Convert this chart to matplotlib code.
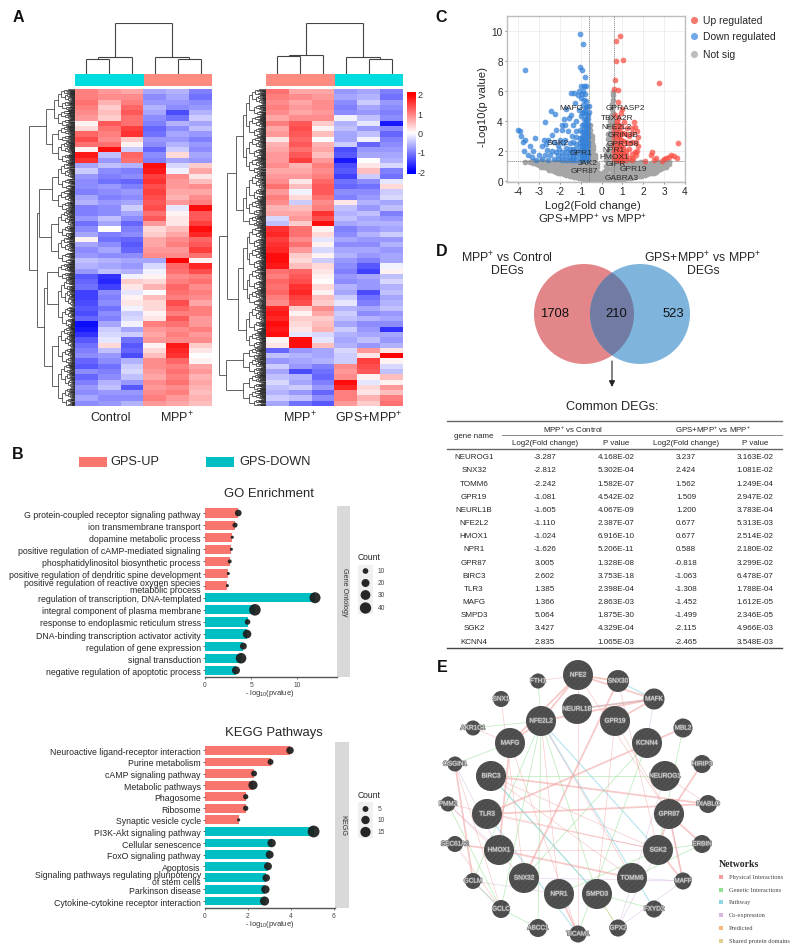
#Multi panel figure: heatmaps, enrichment bars, volcano, venn + table, gene network
import numpy as np
import matplotlib
matplotlib.use("Agg")
import matplotlib.pyplot as plt
import matplotlib.patheffects as pe
from matplotlib.collections import LineCollection
from matplotlib.colors import LinearSegmentedColormap
from matplotlib.patches import Circle, Rectangle

plt.rcParams['font.family'] = ['Liberation Sans', 'DejaVu Sans']
plt.rcParams['mathtext.default'] = 'regular'
plt.rcParams['hatch.linewidth'] = 0.35
plt.rcParams['axes.unicode_minus'] = False

# heatmap values, rows top to bottom, columns Control x3 then MPP+ x3
heat_left = [
    [1.0,0.8,0.7,-0.7,-0.6,-1.0],[1.0,0.9,0.9,-0.9,-0.7,-1.1],[1.1,0.6,1.0,-0.8,-0.8,-0.9],[1.0,0.4,1.2,-0.6,-0.9,-0.8],
    [0.9,0.5,1.3,-0.7,-1.4,-0.6],[0.8,0.4,1.1,-0.9,-1.1,-0.4],[0.1,1.3,1.1,-1.0,-0.6,-0.7],[0.3,1.1,1.5,-1.2,-0.9,-0.5],
    [1.2,1.0,1.6,-1.1,-0.7,-0.8],[1.4,0.9,0.4,-0.8,-0.8,-1.0],[1.1,1.1,0.1,-0.9,-0.6,-0.8],[0.1,1.9,-0.4,-1.2,-0.4,-0.9],
    [1.8,-0.5,1.2,-0.9,0.3,-0.7],[1.6,-0.8,1.1,-1.0,-0.7,-0.8],[-0.7,-0.5,-0.6,1.9,-0.3,0.4],[-0.4,-0.9,-1.0,1.8,-0.1,0.7],
    [-0.8,-1.0,-0.9,1.5,0.9,0.2],[-0.9,-1.1,-1.2,1.6,0.8,0.5],[-0.9,-0.8,-1.0,1.4,0.8,0.9],[-1.0,-0.9,-0.8,1.5,0.7,0.7],
    [-0.7,-1.0,-0.9,1.4,0.6,0.9],[-0.6,-0.8,-0.7,1.3,0.8,1.0],[-1.0,-0.9,-0.4,1.4,-0.2,1.9],[-1.0,-0.9,-0.7,1.1,0.1,1.3],
    [-0.8,-0.5,-0.9,1.3,0.2,1.3],[-1.1,-0.7,-1.2,0.8,0.2,1.5],[-0.9,0.0,-1.0,0.3,0.5,1.9],[-0.7,-1.0,-0.9,0.4,0.7,1.7],
    [0.1,-1.1,-1.2,0.7,0.9,1.2],[-0.7,-0.9,-1.3,0.7,1.0,1.3],[-0.9,-0.7,-1.2,0.8,0.8,1.5],[-0.8,-0.9,-0.9,0.9,0.9,1.1],
    [-0.5,-0.6,-0.7,-0.7,2.0,0.1],[-0.6,-0.7,-0.8,-0.3,1.2,1.7],[-0.8,-0.5,-0.6,-0.1,1.1,1.4],[-1.3,-1.6,-0.1,0.1,0.9,1.0],
    [-1.2,-1.7,0.4,0.3,1.0,1.1],[-1.1,-1.5,0.2,0.6,1.2,0.9],[-1.5,-0.9,-0.2,0.0,1.1,1.0],[-1.5,-1.0,0.1,0.5,1.0,0.9],
    [-1.4,-0.9,0.2,0.3,1.4,0.7],[-1.3,-1.1,-0.1,0.3,1.2,1.0],[-1.4,-0.9,-0.4,0.1,1.0,1.0],[-1.2,-1.0,-0.3,0.2,1.3,0.8],
    [-1.9,-0.7,-0.1,1.0,1.1,0.8],[-1.8,-0.4,-0.7,0.8,0.9,1.0],[-1.6,-0.3,-0.4,0.7,1.0,0.8],[-1.3,-0.2,-1.1,0.8,0.9,0.9],
    [-1.1,0.3,-1.3,0.1,1.8,0.4],[-1.0,-0.5,-1.2,0.3,1.7,0.2],[-0.9,-0.8,-1.4,0.5,1.6,0.0],[-1.2,-0.9,-0.6,0.9,1.2,0.1],
    [-1.3,-1.1,-0.4,0.9,1.0,0.7],[-0.9,-1.0,-0.3,0.8,1.1,0.8],[-1.2,-0.9,-0.5,0.7,1.0,0.6],[-1.0,-0.6,-0.8,0.9,1.1,0.7],
    [-0.8,-0.5,-1.3,0.8,0.9,0.6],[-0.9,-0.8,-0.8,0.9,1.0,0.5],[-0.7,-0.9,-0.9,1.0,0.8,0.6],[-0.9,-0.8,-0.6,0.8,0.7,0.5],
]
# same, columns MPP+ x3 then GPS+MPP+ x3
heat_right = [
    [1.1,0.7,0.7,-0.8,-0.7,-1.0],[1.0,0.9,0.8,-0.7,-0.6,-1.1],[0.9,0.7,0.9,-0.9,-0.4,-0.8],[1.0,0.8,0.9,-1.0,-0.7,-0.9],
    [0.9,0.7,0.8,-0.9,-0.8,-1.0],[0.7,0.9,0.9,-0.1,-0.5,-0.9],[1.0,1.3,0.4,-0.6,-0.2,-1.8],[0.7,1.4,0.1,-0.5,-0.8,-0.9],
    [0.8,1.3,0.5,-0.7,-0.5,-1.2],[0.2,1.2,0.0,-0.7,-0.1,-1.0],[0.6,1.3,0.6,-0.4,-1.2,-0.9],[0.7,1.1,0.7,-1.4,-0.8,-0.8],
    [0.8,1.3,0.5,-1.3,-0.7,-0.7],[0.8,1.5,0.8,-1.8,0.0,-0.6],[0.9,0.6,1.0,-1.4,0.2,-0.3],[0.7,0.7,0.9,-1.3,0.5,-1.0],
    [0.8,0.8,1.0,-1.5,-0.4,-1.1],[0.9,0.2,1.2,-1.1,-0.9,-0.2],[1.1,0.5,1.3,-1.2,-1.1,0.3],[0.8,-0.1,1.3,-0.9,-0.9,-0.4],
    [1.0,0.3,1.1,-1.0,-0.8,-0.3],[0.9,-0.4,0.9,0.2,-0.6,-0.7],[0.6,0.5,1.0,-0.5,-0.8,-0.5],[0.7,0.7,1.6,-0.6,-0.5,-1.0],
    [-0.3,0.8,1.4,-0.5,-0.7,-0.8],[-0.5,0.4,1.9,-0.7,-0.6,-0.6],[1.6,1.1,0.1,-1.0,-0.8,-0.7],[1.7,1.1,0.3,-0.9,-0.6,-0.4],
    [1.5,0.9,-0.2,-0.7,-0.8,-0.8],[1.6,1.1,0.1,-0.9,-0.9,-0.6],[1.7,0.8,-0.3,-0.7,-0.7,-0.8],[1.9,0.4,0.1,-0.6,-0.8,-0.7],
    [1.9,0.3,-0.4,-0.8,-1.0,-0.7],[1.8,0.5,0.3,-0.9,-1.3,-0.1],[1.1,1.2,0.2,-1.0,-1.5,0.1],[1.0,1.3,0.1,-0.8,-0.7,-0.5],
    [1.2,1.4,0.0,-0.9,-0.8,-0.3],[1.1,1.6,0.3,-0.6,-0.8,-0.6],[1.2,1.7,0.1,-0.7,-1.4,-0.5],[1.0,1.5,0.5,-0.4,-1.1,-0.7],
    [0.9,1.4,0.4,-0.2,-1.0,-0.6],[1.7,0.4,0.9,-0.6,-0.7,-0.5],[1.8,0.1,0.7,-0.4,-0.9,-0.8],[1.7,0.4,0.4,-0.5,-0.6,-0.7],
    [1.9,0.3,0.5,-0.7,-0.9,-0.9],[1.8,0.2,0.6,-0.4,-0.8,-1.6],[1.9,-0.2,-0.3,-0.6,-0.7,-0.7],[0.1,1.9,-0.2,-0.7,-0.5,-0.8],
    [0.2,1.9,0.5,-0.6,-0.8,-0.6],[-1.2,-0.8,-0.7,-0.3,0.8,0.2],[-0.5,-0.6,-0.7,-0.4,0.2,2.0],[-0.8,-0.7,-0.6,-0.4,1.5,0.1],
    [-0.4,-0.8,-1.0,0.9,1.4,-0.3],[-0.7,-1.4,-1.1,0.8,1.3,-0.5],[-0.5,-0.6,-1.2,0.9,0.1,0.5],[-0.3,-0.7,-1.0,1.9,-0.2,0.1],
    [-0.5,-0.4,-0.8,1.7,0.3,0.8],[-0.6,-0.8,-1.2,1.0,0.2,0.5],[-0.4,-0.5,-0.9,1.0,0.6,1.0],[-0.7,-1.1,-1.3,0.8,0.4,1.1],
]
heat_left_groups = ["Control", "MPP$^{+}$"]
heat_right_groups = ["MPP$^{+}$", "GPS+MPP$^{+}$"]
cbar_ticks = [2, 1, 0, -1, -2]

# merge trees: (height, child, child), an int is a block of heatmap rows
row_tree_left = (1.0,
    (0.80, (0.62, (0.45, 4, 3), (0.5, 3, 4)), (0.42, 0, 0)),
    (0.82, (0.78, (0.51, 5, 4), (0.53, 5, 5)), (0.67, (0.6, 3, 9), (0.49, 7, 8))))
row_tree_right = (1.0,
    (0.83, (0.64, (0.5, (0.42, 5, 4), (0.42, 4, 3)), (0.5, (0.42, 5, 3), 2)),
           (0.59, (0.48, (0.4, 4, 4), (0.4, 4, 3)), (0.42, 5, 3))),
    (0.85, (0.5, 2, 3), (0.5, 3, 3)))
col_tree_left = (1.0, (0.33, (0.30, 1, 1), 1), (0.34, 1, (0.30, 1, 1)))
col_tree_right = (1.0, (0.38, (0.35, 1, 1), 1), (0.34, 1, (0.30, 1, 1)))

# GO bars
go_terms = ["G protein-coupled receptor signaling pathway", "ion transmembrane transport",
            "dopamine metabolic process", "positive regulation of cAMP-mediated signaling",
            "phosphatidylinositol biosynthetic process", "positive regulation of dendritic spine development",
            "positive regulation of reactive oxygen species\nmetabolic process",
            "regulation of transcription, DNA-templated", "integral component of plasma membrane",
            "response to endoplasmic reticulum stress", "DNA-binding transcription activator activity",
            "regulation of gene expression", "signal transduction", "negative regulation of apoptotic process"]
go_pval = [3.6, 3.25, 2.95, 2.85, 2.67, 2.52, 2.42, 11.9, 5.4, 4.6, 4.55, 4.15, 3.9, 3.35]
go_count = [14, 8, 3, 3, 5, 3, 3, 38, 42, 10, 23, 15, 35, 20]
go_up = 7
go_xticks = [0, 5, 10]
go_legend = [10, 20, 30, 40]

# KEGG bars
kegg_terms = ["Neuroactive ligand-receptor interaction", "Purine metabolism", "cAMP signaling pathway",
              "Metabolic pathways", "Phagosome", "Ribosome", "Synaptic vesicle cycle",
              "PI3K-Akt signaling pathway", "Cellular senescence", "FoxO signaling pathway", "Apoptosis",
              "Signaling pathways regulating pluripotency\nof stem cells", "Parkinson disease",
              "Cytokine-cytokine receptor interaction"]
kegg_pval = [3.97, 3.06, 2.29, 2.24, 1.9, 1.9, 1.57, 5.07, 3.11, 3.02, 2.94, 2.86, 2.82, 2.78]
kegg_count = [8, 5, 5, 12, 4, 4, 1.4, 20, 10, 9, 9, 8, 10, 12]
kegg_up = 7
kegg_xticks = [0, 2, 4, 6]
kegg_legend = [5, 10, 15]

# volcano points
up_pts = [(0.9,9.67),(0.7,9.3),(0.71,8.02),(1.05,8.04),(0.65,6.75),(2.74,6.55),(0.6,6.15),(0.8,6.05),(0.77,5.25),(0.97,4.8),
    (0.65,4.4),(0.8,4.2),(0.95,4.5),(1.1,3.9),(0.7,3.8),(1.2,3.5),(1.55,3.9),(1.6,3.6),(1.45,3.2),(1.7,3.3),(1.75,2.9),(1.65,2.6),
    (1.75,2.3),(1.7,2.0),(1.6,1.9),(1.65,1.7),(1.5,1.5),
    (2.4,1.95),(2.35,1.75),(2.6,1.55),(2.1,1.33),(2.5,1.4),(3.65,2.52),(3.35,1.75),(3.25,1.6),(3.45,1.65),(3.6,1.55),(3.1,1.5),(3.0,1.45),(2.9,1.3)]
up_dense = {0.62:[1.45,1.75,2.0,2.3,2.6,2.9,3.2,3.5], 0.72:[1.4,1.6,1.9,2.2,2.5,2.85,3.1,3.45,4.0], 0.82:[1.38,1.65,1.95,2.2,2.55,2.9,3.3,3.7],
    0.92:[1.35,1.6,1.85,2.3,2.7,3.15,3.6], 1.02:[1.4,1.65,2.0,2.25,2.65,3.2], 1.15:[1.38,1.7,2.0,2.6,3.1], 1.3:[1.55,2.1,2.5,3.0], 1.45:[1.4,1.8,2.6,3.5]}
down_pts = [(-1.05,9.8),(-0.9,9.1),(-1.05,7.6),(-0.95,7.4),(-0.8,6.9),(-3.65,7.4),(-1.0,6.3),(-0.85,6.35),(-0.75,6.3),(-1.1,6.0),
    (-0.9,6.0),(-1.3,5.85),(-1.45,5.85),(-1.15,5.7),(-0.8,5.8),(-1.0,5.5),(-0.75,5.3),(-1.25,5.2),(-0.9,5.05),(-1.7,4.8),(-1.1,4.7),
    (-0.8,4.7),(-2.4,4.65),(-2.25,4.45),(-1.45,4.4),(-1.0,4.3),(-1.55,4.2),(-1.8,4.1),(-2.7,3.95),(-1.2,4.0),
    (-1.9,3.7),(-1.75,3.75),(-1.35,3.7),(-4.0,3.4),(-3.9,3.35),(-2.2,3.4),(-1.9,3.4),(-1.6,3.3),
    (-1.2,3.3),(-3.85,3.0),(-2.35,3.05),(-1.4,3.0),(-3.2,2.85),(-2.75,2.75),(-3.65,2.75),
    (-3.75,2.6),(-2.55,2.7),(-2.3,2.6),(-2.0,2.7),(-1.75,2.75),(-3.45,2.35),
    (-2.85,2.3),(-2.65,2.45),(-2.1,2.4),(-1.85,2.5),(-3.7,2.0),
    (-3.3,2.0),(-2.6,2.05),(-2.35,2.0),(-2.05,2.1),
    (-3.5,1.7),(-3.35,1.6),(-3.0,1.7),(-2.7,1.75),(-2.45,1.7),(-2.2,1.95),
    (-3.15,1.4),(-2.85,1.45),(-2.55,1.42),(-2.3,1.45),(-0.6,5.0),(-0.7,5.0),(-0.6,4.6)]
down_dense = {-0.65:[1.4,1.7,2.0,2.3,2.6,2.9,3.2,3.5,3.8,4.1,4.4], -0.75:[1.45,1.75,2.05,2.35,2.65,2.95,3.25,3.55,3.85,4.15,4.45,4.9],
    -0.85:[1.4,1.7,2.0,2.3,2.6,2.9,3.2,3.5,3.8,4.1,4.6,5.4], -0.95:[1.45,1.75,2.05,2.35,2.65,2.95,3.25,3.7,4.5,5.8],
    -1.05:[1.4,1.7,2.0,2.3,2.6,2.85,3.4], -1.2:[1.4,1.65,1.9,2.15,2.45,2.9], -1.35:[1.4,1.65,1.9,2.15,2.6], -1.5:[1.4,1.65,1.9,2.1,2.5],
    -1.7:[1.42,1.65,1.9,2.2], -1.9:[1.42,1.65,1.95], -2.1:[1.45,1.7]}
# x -> y values of not significant genes
notsig = {-3.65:[1.25], -3.45:[1.27], -3.3:[1.2,1.3], -3.2:[1.18,1.28], -3.1:[1.1,1.25], -3.0:[1.05,1.2], -2.9:[0.95,1.2,1.3], -2.8:[0.95,1.1,1.28],
    -2.7:[0.9,1.05,1.25], -2.6:[0.85,1.05,1.28], -2.5:[0.75,0.95,1.2], -2.4:[0.7,0.95,1.2], -2.3:[0.65,0.9,1.15,1.28], -2.2:[0.6,0.85,1.1],
    -2.1:[0.55,0.8,1.05,1.25], -2.0:[0.5,0.75,1.0,1.28], -1.9:[0.5,0.75,1.0,1.25], -1.8:[0.45,0.7,0.95,1.2], -1.7:[0.4,0.65,0.9,1.15,1.28],
    -1.6:[0.4,0.65,0.9,1.15], -1.5:[0.35,0.6,0.85,1.1,1.3], -1.4:[0.3,0.55,0.8,1.05], -1.3:[0.25,0.5,0.75,1.0,1.25], -1.2:[0.25,0.5,0.75,1.0],
    -1.1:[0.2,0.45,0.7,0.95,1.2], -1.0:[0.18,0.42,0.68,0.92,1.15], -0.9:[0.15,0.4,0.65,0.9,1.15,1.3], -0.83:[0.12,0.38,0.62,0.88,1.12],
    -0.75:[0.1,0.35,0.6,0.85,1.1,1.3], -0.66:[0.1,0.35,0.6,0.85,1.1], -0.56:[0.1,0.4,0.7,1.0,1.3,1.6,1.9,2.2,2.5,2.8,3.1,3.4,3.75],
    -0.48:[0.1,0.4,0.7,1.0,1.3,1.6,1.9,2.2,2.5,2.8,3.0], -0.4:[0.05,0.3,0.6,0.9,1.2,1.5,1.8,2.1,2.3], -0.3:[0.05,0.3,0.6,0.9,1.2,1.5,1.7],
    -0.2:[0.05,0.3,0.6,0.9,1.1], -0.1:[0.05,0.3,0.5], 0.0:[0.05,0.2], 0.1:[0.05,0.3,0.6], 0.2:[0.1,0.4,0.7,1.0,1.4,1.8],
    0.3:[0.1,0.4,0.8,1.2,1.6,2.0,2.4,2.8,3.1], 0.4:[0.1,0.4,0.8,1.2,1.6,2.0,2.4,2.8,3.2,3.6,4.0,4.2], 0.5:[0.1,0.4,0.8,1.2,1.6,2.0,2.4,2.8,3.2,3.6,4.0,4.4,4.8,5.1],
    0.56:[0.1,0.5,1.0,1.5,2.0,2.5,3.0,3.5,4.0,4.5,5.0,5.4,5.7,5.95], 0.62:[0.1,0.4,0.7,1.0,1.25], 0.7:[0.1,0.4,0.7,1.0,1.25], 0.8:[0.1,0.38,0.68,0.98,1.25],
    0.9:[0.12,0.4,0.7,1.0,1.25], 1.0:[0.12,0.42,0.72,1.02,1.26], 1.1:[0.15,0.45,0.75,1.05,1.28], 1.2:[0.18,0.48,0.78,1.08,1.28], 1.3:[0.2,0.5,0.8,1.1,1.28],
    1.4:[0.22,0.52,0.82,1.12], 1.5:[0.25,0.55,0.85,1.15], 1.6:[0.28,0.58,0.88,1.18], 1.7:[0.3,0.6,0.9,1.2], 1.8:[0.32,0.62,0.92,1.22], 1.9:[0.35,0.65,0.95,1.25],
    2.0:[0.38,0.68,0.98,1.2], 2.1:[0.4,0.7,1.0,1.2], 2.2:[0.45,0.75,1.05], 2.3:[0.5,0.8,1.1], 2.4:[0.52,0.82,1.12], 2.5:[0.55,0.85,1.15], 2.6:[0.62,0.92,1.2],
    2.7:[0.7,1.0,1.25], 2.8:[0.78,1.05], 2.9:[0.85,1.1], 3.0:[0.9,1.15], 3.1:[0.95,1.2], 3.25:[1.1,1.25]}
volcano_genes = [("MAFG",-1.44,4.9),("GPRASP2",1.13,4.87),("TBXA2R",0.75,4.25),("NFE2L2",0.7,3.65),("GRIN3B",1.05,3.07),
    ("GPR158",1.0,2.47),("SGK2",-2.1,2.55),("GPR1",-0.98,1.91),("NPR1",0.55,2.12),("HMOX1",0.63,1.64),("JAK2",-0.67,1.22),
    ("GIPR",0.68,1.18),("GPR87",-0.82,0.67),("GPR19",1.52,0.8),("GABRA3",0.95,0.24)]
volcano_ticks_x = [-4, -3, -2, -1, 0, 1, 2, 3, 4]
volcano_ticks_y = [0, 2, 4, 6, 8, 10]
volcano_legend = ["Up regulated", "Down regulated", "Not sig"]

# venn and table
venn_counts = [1708, 210, 523]
table_rows = [
    ["NEUROG1","-3.287","4.168E-02","3.237","3.163E-02"],["SNX32","-2.812","5.302E-04","2.424","1.081E-02"],
    ["TOMM6","-2.242","1.582E-07","1.562","1.249E-04"],["GPR19","-1.081","4.542E-02","1.509","2.947E-02"],
    ["NEURL1B","-1.605","4.067E-09","1.200","3.783E-04"],["NFE2L2","-1.110","2.387E-07","0.677","5.313E-03"],
    ["HMOX1","-1.024","6.916E-10","0.677","2.514E-02"],["NPR1","-1.626","5.206E-11","0.588","2.180E-02"],
    ["GPR87","3.005","1.328E-08","-0.818","3.299E-02"],["BIRC3","2.602","3.753E-18","-1.063","6.478E-07"],
    ["TLR3","1.385","2.398E-04","-1.308","1.788E-04"],["MAFG","1.366","2.863E-03","-1.452","1.612E-05"],
    ["SMPD3","5.064","1.875E-30","-1.499","2.346E-05"],["SGK2","3.427","4.329E-04","-2.115","4.966E-03"],
    ["KCNN4","2.835","1.065E-03","-2.465","3.548E-03"]]

# network nodes: name, x, y, radius in figure pixels
nodes = [("NFE2",578,676,15),("SNX30",618,682,11),("FTH1",538,682,7.5),("SNX1",501,700,8),("MAFK",654,700,10.5),
    ("NEURL1B",577,710,15),("NFE2L2",541,722,15),("GPR19",615,722,15),("AKR1C1",473,729,7.5),("MBL2",683,729,9.5),
    ("MAFG",510,744,15),("KCNN4",647,744,15),("OSGIN1",455,765,7.5),("HIRIP3",702,765,9),("BIRC3",491,777,15),
    ("NEUROG1",665,777,15),("PMM2",448,805,7.5),("DIABLO",708,805,9),("TLR3",487,815,15),("GPR87",669,815,15),
    ("SEC61A2",455,845,8),("ERBIN",702,845,9),("HMOX1",499,851,15),("SGK2",658,851,15),("GCLM",473,882,8),
    ("MAFF",683,882,8.5),("SNX32",524,879,15),("TOMM6",632,879,15),("NPR1",559,895,15),("SMPD3",597,895,15),
    ("GCLC",501,910,9),("FXYD2",654,910,8.5),("ABCC1",538,929,9),("GPX2",618,929,8.5),("TICAM1",578,935,8.5)]
physical_thick = [("NFE2","NFE2L2"),("NFE2","MAFG"),("NFE2L2","MAFG"),("NFE2L2","MAFK"),("NEURL1B","MAFK"),("GPR19","MAFK"),
    ("NFE2","SNX30"),("NFE2","MAFK"),("SNX30","SNX32"),("TLR3","MBL2"),("BIRC3","DIABLO"),("TLR3","DIABLO"),("GPR87","ERBIN"),
    ("GPR87","MAFF"),("SGK2","GPR87"),("HIRIP3","GPR87"),("HMOX1","TOMM6"),("NPR1","TICAM1"),("MAFG","HMOX1"),("OSGIN1","GCLM"),
    ("SEC61A2","HMOX1"),("SGK2","MAFF")]
physical_thin = [("NFE2","TICAM1"),("SNX1","SNX32"),("AKR1C1","MAFG"),("BIRC3","SGK2"),("TLR3","SGK2"),("PMM2","SGK2"),("PMM2","SNX32"),
    ("NFE2","GPR87"),("SNX30","SGK2"),("GPR19","SMPD3"),("NEUROG1","DIABLO"),("NFE2L2","NPR1"),("MAFG","TICAM1"),("FTH1","NFE2"),
    ("GPR19","GPR87"),("BIRC3","TOMM6"),("HMOX1","SGK2"),("SEC61A2","GCLC"),("OSGIN1","GCLC"),("NFE2L2","TOMM6")]
genetic_edges = [("NFE2L2","ABCC1"),("NFE2L2","GCLC"),("NFE2L2","SMPD3"),("NFE2L2","GCLM"),("MAFG","OSGIN1"),("AKR1C1","NFE2L2"),
    ("FTH1","NFE2L2"),("KCNN4","TICAM1"),("MBL2","SGK2"),("BIRC3","NEUROG1"),("TOMM6","ERBIN"),("SMPD3","FXYD2"),("ABCC1","GCLC"),
    ("KCNN4","SNX32"),("SMPD3","GPX2"),("SGK2","ERBIN"),("NPR1","SGK2"),("PMM2","GCLC"),("BIRC3","SMPD3")]
pathway_edges = [("NFE2L2","FXYD2"),("NFE2L2","SGK2"),("GCLM","GCLC"),("BIRC3","SMPD3"),("TLR3","TICAM1"),("SNX30","MAFK"),("MAFK","NEURL1B")]
coexp_edges = [("OSGIN1","HMOX1"),("PMM2","HMOX1"),("MAFK","KCNN4"),("NEUROG1","GPX2"),("SGK2","GPX2"),("MAFF","GPX2"),("GCLM","NPR1"),
    ("SNX32","MAFF"),("GPR87","MAFF"),("TOMM6","MAFF")]
predicted_edges = [("GCLM","GCLC"),("NFE2","SNX30"),("SMPD3","GPX2")]
network_legend = ["Physical Interactions","Genetic Interactions","Pathway","Co-expression","Predicted","Shared protein domains"]
network_colors = ["#F2A0A0","#8FE08F","#8FD6E6","#D4B8E0","#F5BE80","#E0D090"]

W, H = 800, 953
fig = plt.figure(figsize=(W/100, H/100), dpi=100)
heat_cmap = LinearSegmentedColormap.from_list("bwr2", ["#0000FF", "#FFFFFF", "#FF0000"])


def px_axes(l, t, r, b):
    return fig.add_axes([l/W, 1-b/H, (r-l)/W, (b-t)/H])


# overlay in figure pixels for everything which is not on a scale
ov = fig.add_axes([0, 0, 1, 1])
ov.set_xlim(0, W)
ov.set_ylim(H, 0)
ov.axis("off")


def label(x, y, s, size=6, ha="center", va="center", **kw):
    kw.setdefault("color", "#262626")
    return ov.text(x, y, s, fontsize=size, ha=ha, va=va, **kw)


def strips(d):
    return [(x, y) for x, ys in d.items() for y in ys]


for letter, lx, ly in [("A", 18, 17), ("B", 18, 455), ("C", 441, 17), ("D", 442, 252), ("E", 442, 668)]:
    label(lx, ly, letter, size=11.5, fontweight="bold", color="#111111")


def add_merge(segs, ya, ha, yb, hb, h):
    segs.append(((ha, ya), (h, ya)))
    segs.append(((hb, yb), (h, yb)))
    segs.append(((h, ya), (h, yb)))
    return (ya + yb)/2, h


def col_lines(node, pos, segs):
    if not isinstance(node, tuple):
        pos[0] += node
        return pos[0] - node/2, 0.0
    ya, ha = col_lines(node[1], pos, segs)
    yb, hb = col_lines(node[2], pos, segs)
    return add_merge(segs, ya, ha, yb, hb, node[0])


def comb(y0, y1, h, segs, step, flip=False):
    # fills a row block with the fine merges that turn black beside the heatmap
    if y1 - y0 <= step:
        return (y0 + y1)/2, 0.0
    r = 0.38 if flip else 0.58
    m = y0 + (y1 - y0)*r
    ya, ha = comb(y0, m, h*0.80, segs, step, not flip)
    yb, hb = comb(m, y1, h*0.72, segs, step, flip)
    return add_merge(segs, ya, ha, yb, hb, h)


def row_tree(node, pos, segs, top):
    if not isinstance(node, tuple):
        start = pos[0]
        pos[0] += node
        return comb(start, start + node, top, segs, 0.12)
    h, a, b = node
    # empty side keeps the branch on its own
    if a == (0.42, 0, 0) or b == (0.42, 0, 0):
        return row_tree(a if b == (0.42, 0, 0) else b, pos, segs, top)
    ya, ha = row_tree(a, pos, segs, top)
    yb, hb = row_tree(b, pos, segs, top)
    return add_merge(segs, ya, ha, yb, hb, h)


def draw_heat(data, left, right, row_tree_spec, col_tree_spec, colors, groups, group_x, tree_left, top):
    ax = px_axes(left, 90, right, 407)
    ax.imshow(np.array(data), cmap=heat_cmap, vmin=-2, vmax=2, aspect="auto", interpolation="nearest")
    ax.axis("off")
    # annotation bar
    bar = px_axes(left, 75, right, 87)
    bar.add_patch(Rectangle((0, 0), 0.5, 1, color=colors[0], lw=0))
    bar.add_patch(Rectangle((0.5, 0), 0.5, 1, color=colors[1], lw=0))
    bar.set_xlim(0, 1)
    bar.set_ylim(0, 1)
    bar.axis("off")
    # row dendrogram
    rd = px_axes(tree_left, 90, left, 407)
    segs = []
    row_tree(row_tree_spec, [0], segs, top)
    rd.add_collection(LineCollection(segs, colors="#262626", linewidths=0.5))
    rd.set_xlim(1.0, 0)
    rd.set_ylim(60, 0)
    rd.axis("off")
    # column dendrogram
    cd = px_axes(left, 24, right, 75)
    segs = []
    col_lines(col_tree_spec, [0], segs)
    flat = [((a[1], a[0]), (b[1], b[0])) for a, b in segs]
    cd.add_collection(LineCollection(flat, colors="#444444", linewidths=0.8))
    cd.set_xlim(0, 6)
    cd.set_ylim(0, 1)
    cd.axis("off")
    for g, gx in zip(groups, group_x):
        label(gx, 418, g, size=9)


draw_heat(heat_left, 75, 212, row_tree_left, col_tree_left, ["#00DCE0", "#FF8A80"], heat_left_groups, [111, 177], 29, 0.38)
draw_heat(heat_right, 266, 403, row_tree_right, col_tree_right, ["#FF8A80", "#00DCE0"], heat_right_groups, [300, 369], 219, 0.36)

# colour key
cb = px_axes(407, 93, 415, 175)
cb.imshow(np.linspace(2.1, -2.1, 100).reshape(-1, 1), cmap=heat_cmap, vmin=-2, vmax=2, aspect="auto",
          extent=[0, 1, -2.15, 2.1])
cb.set_xticks([])
cb.set_yticks(cbar_ticks)
cb.yaxis.tick_right()
cb.tick_params(length=0, labelsize=6.5, pad=2, labelcolor="#333333")
for s in cb.spines.values():
    s.set_visible(False)

# panel B legend
ov.add_patch(Rectangle((79, 458), 28, 10, color="#F8766D", lw=0))
ov.add_patch(Rectangle((206, 458), 28, 10, color="#00BFC4", lw=0))
label(110, 462.5, "GPS-UP", size=9.2, ha="left")
label(239, 462.5, "GPS-DOWN", size=9.2, ha="left")


def enrich(top, bottom, right, strip_right, xlim, ymin, ymax, terms, vals, counts, n_up, xticks, title, title_x, title_y,
           strip_text, s_scale, leg_counts, leg_y, count_y, box):
    ax = px_axes(205, top, right, bottom)
    y = np.arange(len(terms))
    colors = ["#F8766D"]*n_up + ["#00BFC4"]*(len(terms) - n_up)
    ax.barh(y, vals, height=0.76, color=colors)
    ax.scatter(vals, y, s=np.array(counts)*s_scale, color="#1c1c1c", alpha=0.92, lw=0, zorder=3, clip_on=False)
    ax.set_xlim(0, xlim)
    ax.set_ylim(ymax, ymin)
    ax.set_yticks(y)
    ax.set_yticklabels(terms, fontsize=6.3, color="#262626", linespacing=0.72)
    ax.set_xticks(xticks)
    ax.tick_params(axis="x", labelsize=4.8, length=1.5, width=0.5, pad=1.5, labelcolor="#444444", color="#444444")
    ax.tick_params(axis="y", length=1.5, width=0.5, pad=1.5, color="#333333")
    for s in ["top", "right", "left"]:
        ax.spines[s].set_visible(False)
    ax.spines["bottom"].set_color("#555555")
    ax.spines["bottom"].set_linewidth(1.0)
    label(title_x, title_y, title, size=9.4)
    label(270, bottom + 16, "- log$_{10}$(pvalue)", size=5.4, color="#333333")
    ov.add_patch(Rectangle((right, top), strip_right - right, bottom - top, color="#D9D9D9", lw=0))
    label((right + strip_right)/2 + 1, (top + bottom)/2, strip_text, size=5.2, rotation=-90, color="#333333")
    # size key
    label(369, count_y, "Count", size=6.2)
    ov.add_patch(Rectangle((358, box[0]), 15, box[1] - box[0], color="#F0F0F0", lw=0))
    ov.scatter([365.5]*len(leg_counts), leg_y, s=np.array(leg_counts)*s_scale, color="#262626", lw=0, zorder=3)
    for c, ly in zip(leg_counts, leg_y):
        label(378, ly, str(c), size=4.8, ha="left", color="#444444")


enrich(507, 678, 337, 350, 14.28, -0.58, 13.55, go_terms, go_pval, go_count, go_up, go_xticks, "GO Enrichment", 269, 494,
       "Gene Ontology", 1.66, go_legend, [572, 584, 596, 609], 558, (566, 615))
enrich(743, 909, 335, 349, 6.07, -0.72, 13.6, kegg_terms, kegg_pval, kegg_count, kegg_up, kegg_xticks, "KEGG Pathways", 274, 733.5,
       "KEGG", 3.64, kegg_legend, [810, 821, 833], 796, (803, 839))

# volcano
vax = px_axes(507, 17, 685, 183)
vax.grid(color="#EDEDED", lw=0.6)
vax.set_axisbelow(True)
vax.scatter(*zip(*strips(notsig)), s=17, color="#A6A6A6", lw=0, zorder=2)
vax.scatter(*zip(*(down_pts + strips(down_dense))), s=17, color="#2F7ED8", alpha=0.72, lw=0, zorder=3)
vax.scatter(*zip(*(up_pts + strips(up_dense))), s=17, color="#FA4B40", alpha=0.72, lw=0, zorder=3)
vax.axvline(-0.58, color="#777777", lw=0.5, ls=(0, (2, 1)), zorder=4)
vax.axvline(0.58, color="#777777", lw=0.5, ls=(0, (2, 1)), zorder=4)
vax.axhline(1.3, color="#777777", lw=0.5, ls=(0, (2, 1)), zorder=4)
vax.set_xlim(-4.53, 4)
vax.set_ylim(-0.07, 11)
vax.set_xticks(volcano_ticks_x)
vax.set_yticks(volcano_ticks_y)
vax.tick_params(labelsize=7.2, length=1.5, width=0.5, pad=1.5, labelcolor="#262626", color="#555555")
for s in vax.spines.values():
    s.set_color("#BDBDBD")
    s.set_linewidth(1.0)
for gene, gx, gy in volcano_genes:
    vax.text(gx, gy, gene, fontsize=6, ha="center", va="center", color="#2b2b2b", zorder=5)
label(483, 107, "-Log10(p value)", size=8.2, rotation=90)
label(593, 206, "Log2(Fold change)", size=8.2)
label(593, 219, "GPS+MPP$^{+}$ vs MPP$^{+}$", size=8.2)
for name, col, ly in zip(volcano_legend, ["#F5786E", "#74A9E8", "#BDBDBD"], [21, 37, 55]):
    ov.scatter([694], [ly], s=26, color=col, lw=0)
    label(703, ly, name, size=7.5, ha="left")

# venn
ov.add_patch(Circle((584, 315), 50, color="#E3868A", lw=0))
ov.add_patch(Circle((640, 315), 50, color="#7FB5DC", lw=0))
mid_c = Circle((640, 315), 50, color="#717BA3", lw=0)
ov.add_patch(mid_c)
mid_c.set_clip_path(Circle((584, 315), 50, transform=ov.transData))
label(507, 258, "MPP$^{+}$ vs Control", size=8.8)
label(507, 271, "DEGs", size=8.8)
label(703, 258, "GPS+MPP$^{+}$ vs MPP$^{+}$", size=8.8)
label(703, 271, "DEGs", size=8.8)
for n, nx in zip(venn_counts, [555, 616, 673]):
    label(nx, 314, str(n), size=9.4, color="#111111")
ov.annotate("", xy=(612, 388), xytext=(612, 362),
            arrowprops=dict(arrowstyle="-|>", color="#222222", lw=0.8, mutation_scale=9, shrinkA=0, shrinkB=0))
label(612, 407, "Common DEGs:", size=9.2)

# table
ov.plot([447, 782], [422, 422], color="#666666", lw=1.0)
ov.plot([502, 782], [436, 436], color="#888888", lw=0.7)
ov.plot([447, 782], [450, 450], color="#666666", lw=1.0)
ov.plot([447, 782], [649, 649], color="#444444", lw=1.0)
table_x = [474, 545, 616, 686, 755]
label(474, 437, "gene name", size=5.7)
label(573, 430, "MPP$^{+}$ vs Control", size=5.7)
label(713, 430, "GPS+MPP$^{+}$ vs MPP$^{+}$", size=5.7)
for tx, head in zip(table_x[1:], ["Log2(Fold change)", "P value", "Log2(Fold change)", "P value"]):
    label(tx, 443.5, head, size=5.7)
for i, row in enumerate(table_rows):
    for tx, cell in zip(table_x, row):
        label(tx, 457.7 + i*13.17, cell, size=5.8)

# network
pos = {n[0]: (n[1], n[2]) for n in nodes}


def edge_set(pairs, color, width, alpha=0.55):
    segs = [(pos[a], pos[b]) for a, b in pairs]
    ov.add_collection(LineCollection(segs, colors=color, linewidths=width, alpha=alpha, zorder=1))


edge_set(coexp_edges, network_colors[3], 0.5, 0.6)
edge_set(genetic_edges, network_colors[1], 0.6)
edge_set(pathway_edges, network_colors[2], 1.0)
edge_set(physical_thin, network_colors[0], 0.5)
edge_set(physical_thick, network_colors[0], 1.3)
edge_set(predicted_edges, network_colors[4], 0.5)
halo = [pe.withStroke(linewidth=1.0, foreground="#777777")]
for name, nx, ny, nr in nodes:
    ov.add_patch(Circle((nx, ny), nr, facecolor="#4C4C4C", edgecolor="#5E5E5E", hatch="//////", lw=0.0, zorder=2))
    label(nx, ny, name, size=4.6, color="#EDEDED", zorder=3, path_effects=halo)
label(719, 865, "Networks", size=7, ha="left", fontweight="bold", family="Liberation Serif")
for name, col, ly in zip(network_legend, network_colors, [878, 891, 903, 916, 929, 942]):
    ov.add_patch(Rectangle((719, ly - 2), 4, 4, color=col, lw=0))
    label(729, ly, name, size=4.6, ha="left", family="Liberation Serif", color="#444444")

fig.savefig("out.png", dpi=100, facecolor="white")
